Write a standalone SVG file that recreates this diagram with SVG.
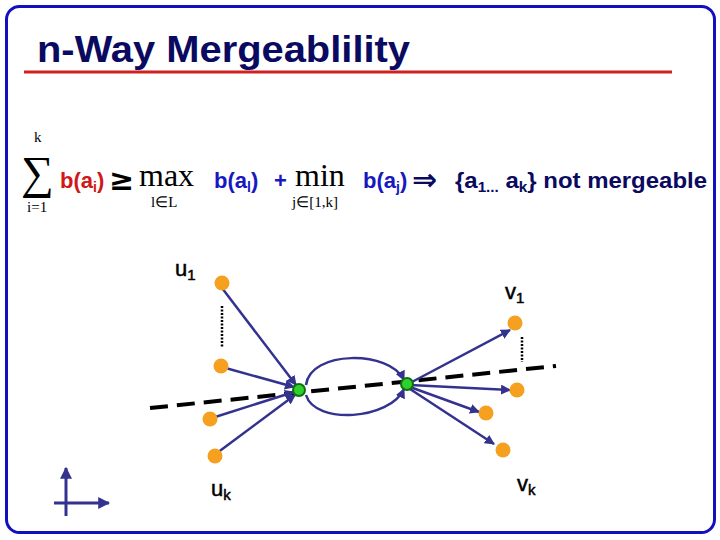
<svg xmlns="http://www.w3.org/2000/svg" width="720" height="540" viewBox="0 0 720 540">
<style>
.b{font-family:"Liberation Sans",Arial,sans-serif;font-weight:bold;font-size:22px}
.s{font-family:"Liberation Serif","Times New Roman",serif}
.lab{font-family:"Liberation Sans",Arial,sans-serif;font-size:22px;fill:#000;stroke:#000;stroke-width:0.5}
.e{stroke:#33338f;stroke-width:2.5;fill:none}
.o{fill:#f5a01e}
</style>
<defs>
<marker id="a" viewBox="0 0 10 10" refX="9" refY="5" markerWidth="4" markerHeight="4" orient="auto"><path d="M0,0L10,5L0,10z" fill="#33338f"/></marker>
</defs>
<rect width="720" height="540" fill="#fff"/>
<rect x="6.5" y="6.5" width="708" height="526" rx="13" fill="none" stroke="#1010c0" stroke-width="3"/>
<text x="37" y="62" font-family="Liberation Sans,Arial,sans-serif" font-weight="bold" font-size="36" fill="#0a0a60" textLength="373" lengthAdjust="spacingAndGlyphs">n-Way Mergeablility</text>
<line x1="24" y1="72" x2="672" y2="72" stroke="#d02020" stroke-width="3"/>
<g id="formula">
<text x="21" y="188" class="s" font-size="46">∑</text>
<text x="34" y="142" class="s" font-size="15">k</text>
<text x="27" y="212" class="s" font-size="15">i=1</text>
<text x="60" y="188" class="b" fill="#d01818">b(a<tspan font-size="14" dy="4">i</tspan><tspan dy="-4">)</tspan></text>
<text x="109" y="190" font-family="DejaVu Sans,sans-serif" font-weight="bold" font-size="30" fill="#000">≥</text>
<text x="139" y="186" class="s" font-size="32">max</text>
<text x="151" y="207" class="s" font-size="15">l∈L</text>
<text x="214" y="188" class="b" fill="#1818c0">b(a<tspan font-size="14" dy="4">l</tspan><tspan dy="-4">)</tspan></text>
<text x="274" y="188" class="b" fill="#1818c0">+</text>
<text x="295" y="186" class="s" font-size="32">min</text>
<text x="292" y="207" class="s" font-size="15">j∈[1,k]</text>
<text x="363" y="188" class="b" fill="#1818c0">b(a<tspan font-size="14" dy="4">j</tspan><tspan dy="-4">)</tspan></text>
<text x="412" y="190" font-family="DejaVu Sans,sans-serif" font-weight="bold" font-size="30" fill="#0a0a60">⇒</text>
<text x="455" y="188" class="b" fill="#0a0a60" textLength="252" lengthAdjust="spacingAndGlyphs">{a<tspan font-size="14" dy="4">1...</tspan><tspan dy="-4"> a</tspan><tspan font-size="14" dy="4">k</tspan><tspan dy="-4">} not mergeable</tspan></text>
</g>
<line x1="150" y1="408" x2="556" y2="366" stroke="#000" stroke-width="4" stroke-dasharray="18,9"/>
<g id="connectors">
<line class="e" x1="222" y1="288" x2="296" y2="385" marker-end="url(#a)"/>
<line class="e" x1="222" y1="367" x2="294" y2="387" marker-end="url(#a)"/>
<line class="e" x1="212" y1="418" x2="294" y2="392" marker-end="url(#a)"/>
<line class="e" x1="217" y1="453" x2="295" y2="395" marker-end="url(#a)"/>
<path class="e" d="M306,385 C310,350 390,350 404,380" marker-end="url(#a)"/>
<path class="e" d="M306,395 C315,425 390,420 404,389" marker-end="url(#a)"/>
<line class="e" x1="410" y1="383" x2="510" y2="330" marker-end="url(#a)"/>
<line class="e" x1="410" y1="385" x2="510" y2="390" marker-end="url(#a)"/>
<line class="e" x1="410" y1="387" x2="479" y2="412" marker-end="url(#a)"/>
<line class="e" x1="410" y1="389" x2="494" y2="444" marker-end="url(#a)"/>
<line x1="222" y1="306" x2="222" y2="348" stroke="#000" stroke-width="2.5" stroke-dasharray="2,1.5"/>
<line x1="522" y1="337" x2="522" y2="362" stroke="#000" stroke-width="2.5" stroke-dasharray="2,1.5"/>
</g>
<g id="u1"><circle class="o" cx="222" cy="283" r="7.5"/><text class="lab" x="175" y="276">u<tspan font-size="15" dy="4">1</tspan></text></g>
<g id="u2"><circle class="o" cx="221" cy="366" r="7.5"/></g>
<g id="u3"><circle class="o" cx="210" cy="419" r="7.5"/></g>
<g id="uk"><circle class="o" cx="215" cy="456" r="7.5"/><text class="lab" x="211" y="496">u<tspan font-size="15" dy="4">k</tspan></text></g>
<g id="m1"><circle cx="299" cy="390" r="6" fill="#2ed02e" stroke="#107010" stroke-width="2"/></g>
<g id="m2"><circle cx="407" cy="384" r="6" fill="#2ed02e" stroke="#107010" stroke-width="2"/></g>
<g id="v1"><circle class="o" cx="515" cy="323" r="7.5"/><text class="lab" x="505" y="299">v<tspan font-size="15" dy="4">1</tspan></text></g>
<g id="v2"><circle class="o" cx="517" cy="390" r="7.5"/></g>
<g id="v3"><circle class="o" cx="486" cy="413" r="7.5"/></g>
<g id="vk"><circle class="o" cx="503" cy="450" r="7.5"/><text class="lab" x="517" y="491">v<tspan font-size="15" dy="4">k</tspan></text></g>
<g id="axes">
<line x1="66" y1="516" x2="66" y2="468" stroke="#33338f" stroke-width="3" marker-end="url(#a)"/>
<line x1="54" y1="503" x2="109" y2="503" stroke="#33338f" stroke-width="3" marker-end="url(#a)"/>
</g>
</svg>
